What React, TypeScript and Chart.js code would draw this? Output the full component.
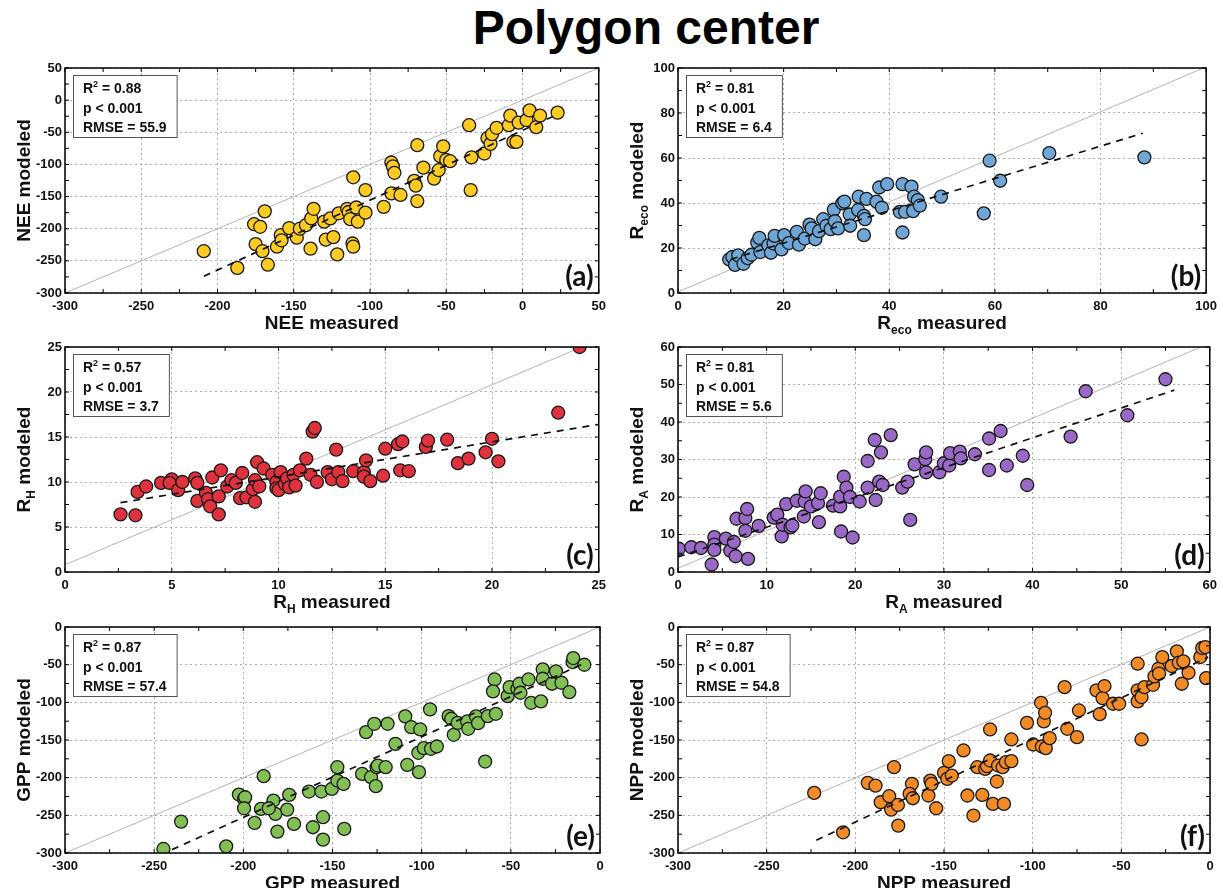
import { useEffect, useRef } from "react";
import { Chart, registerables } from "chart.js";

Chart.register(...registerables);

const FONT = '"Liberation Sans", Arial, Helvetica, sans-serif';

// (a) net ecosystem exchange
const neeMeasured = [-209, -187, -176, -172, -175, -170.5, -167, -169, -161, -158.5, -158, -153, -148, -146, -142, -139, -138.5, -137, -130, -129, -126, -124, -121.5, -120.5, -115, -114, -113, -111.5, -111, -111, -109, -108, -103, -103, -91, -86, -85, -84, -86, -80, -71, -70, -69, -69, -65, -58, -55, -54, -52, -50, -47.5, -35, -34, -33.5, -25, -23, -21, -20, -17, -9, -8, -6, -4, -2.5, 2.6, 4.6, 9, 11.5, 23];
const neeModeled = [-235, -261, -193, -197, -224, -235, -256, -173, -228, -210, -218, -199, -214, -200, -194.5, -231, -184, -169, -189, -217, -184, -213, -240, -176, -169, -174, -185, -223, -228, -120, -167, -189, -140, -175, -166, -97, -103, -113, -145, -147.5, -125.5, -133, -157, -70, -105, -122, -109, -87, -72, -93, -95, -39, -140, -89, -83, -59, -68, -53, -43, -39, -24, -65, -65, -35, -31, -16, -42, -24, -19.5];
const neeFitX = [-209, 23];
const neeFitY = [-274, -22];

// (b) ecosystem respiration
const recoMeasured = [9.7, 10.3, 10.8, 11.4, 12.4, 13.2, 13.9, 15, 15.4, 15.6, 17.1, 17.6, 18.1, 18.3, 19.6, 20.1, 21, 22.5, 22.9, 24, 24.9, 25.3, 26, 26.7, 27.5, 28.1, 28.9, 29.5, 29.7, 30.3, 31.1, 31.5, 32.5, 32.6, 34.1, 34.2, 35.2, 35.2, 35.4, 35.7, 37.6, 38.1, 38.6, 39.6, 42, 42.5, 42.5, 43, 44.2, 44.5, 44.7, 45.4, 45.8, 49.8, 57.9, 59, 61, 70.3, 88.3];
const recoModeled = [14.9, 16, 12.5, 16.7, 13, 15.5, 17, 22.4, 24.5, 18.2, 21.2, 17.9, 22, 25.4, 19.4, 25.7, 22.2, 27.2, 21.5, 24.2, 30.4, 28.7, 23.9, 27.5, 32.8, 29.9, 28.4, 37, 31.9, 28.7, 39.9, 40.6, 34.9, 29.9, 36.9, 42.8, 34.3, 25.7, 32.8, 41.8, 40.6, 46.9, 37.9, 48.4, 36.1, 48.4, 26.9, 36.1, 47.3, 36.4, 42.8, 41.3, 38.8, 42.8, 35.4, 58.8, 49.9, 62.2, 60.3];
const recoFitX = [10, 88];
const recoFitY = [15, 71];

// (c) heterotrophic respiration
const rhMeasured = [2.6, 3.3, 3.4, 3.8, 4.5, 5.0, 4.9, 5.3, 5.5, 6.1, 6.2, 6.2, 6.6, 6.7, 6.8, 6.9, 7.2, 7.3, 7.2, 7.6, 7.8, 8.0, 8.2, 8.3, 8.5, 8.8, 8.9, 8.9, 9.0, 9.1, 9.3, 9.7, 9.9, 9.9, 10.0, 10.1, 10.3, 10.4, 10.5, 10.7, 10.8, 11.0, 11.3, 11.5, 11.6, 11.7, 11.8, 12.3, 12.5, 12.7, 12.8, 13.0, 13.5, 14.0, 14.1, 14.0, 14.3, 14.9, 15.0, 15.6, 15.8, 15.7, 16.1, 16.9, 17.0, 17.9, 18.4, 18.9, 19.7, 20.0, 20.3, 23.1, 24.1];
const rhModeled = [6.4, 6.3, 8.9, 9.5, 9.9, 10.3, 9.9, 9.1, 10.0, 10.4, 9.9, 7.9, 8.8, 8.1, 7.3, 10.5, 6.4, 11.3, 8.4, 9.5, 10.2, 9.9, 8.2, 11.0, 8.3, 9.2, 10.2, 7.8, 12.2, 9.5, 11.5, 10.8, 10.0, 9.3, 9.1, 11.1, 9.8, 10.4, 9.4, 10.8, 9.6, 11.3, 12.6, 10.8, 15.6, 16.0, 10.0, 11.1, 10.3, 13.6, 11.1, 10.1, 11.2, 11.1, 12.4, 10.6, 10.1, 10.7, 13.7, 14.2, 14.5, 11.3, 11.2, 13.9, 14.6, 14.7, 12.1, 12.6, 13.3, 14.8, 12.3, 17.7, 25.0];
const rhFitX = [2.6, 25];
const rhFitY = [7.7, 16.4];

// (d) autotrophic respiration
const raMeasured = [0.1, 1.5, 2.6, 3.8, 4.1, 4.1, 4.1, 5.4, 5.9, 6.3, 6.5, 6.6, 7.6, 7.6, 7.8, 7.9, 9.1, 10.8, 11.2, 11.7, 11.8, 12.2, 12.7, 12.9, 13.4, 14.2, 14.3, 14.4, 15.0, 15.8, 15.9, 16.1, 17.5, 18.3, 18.3, 18.4, 18.7, 19.0, 19.4, 19.7, 20.5, 21.4, 21.4, 22.2, 22.3, 22.7, 22.9, 23.1, 24.0, 25.3, 25.9, 26.2, 26.7, 27.9, 28.0, 28.0, 29.5, 30.0, 30.6, 30.7, 31.8, 31.9, 33.5, 35.1, 35.1, 36.4, 37.1, 38.9, 39.4, 44.3, 46.0, 50.7, 55.0];
const raModeled = [6.2, 6.6, 6.4, 2.0, 9.3, 7.3, 5.9, 8.9, 5.7, 8.0, 4.2, 14.2, 14.4, 11.0, 16.8, 3.5, 12.3, 14.5, 15.3, 9.5, 12.6, 18.1, 11.9, 12.4, 19.0, 14.8, 18.8, 21.5, 17.5, 18.4, 13.3, 21.0, 17.7, 17.5, 20.1, 10.8, 25.4, 22.5, 20.0, 9.2, 18.8, 22.5, 29.6, 35.2, 19.2, 24.1, 31.9, 23.2, 36.5, 22.5, 24.1, 13.9, 28.7, 30.1, 31.9, 26.6, 26.6, 29.0, 28.4, 31.7, 32.1, 30.3, 31.4, 35.6, 27.2, 37.6, 28.4, 31.0, 23.2, 36.1, 48.2, 41.8, 51.4];
const raFitX = [0, 56];
const raFitY = [4.0, 48.5];

// (e) gross primary production
const gppMeasured = [-244.8, -234.9, -209.6, -202.5, -199.6, -199, -199.6, -193.7, -188.6, -190.1, -183.1, -182, -185.7, -180.9, -174.3, -175.4, -171.6, -163.2, -161, -156.2, -155.3, -155.3, -150.4, -147.3, -147.3, -143.8, -143.4, -133.4, -131.2, -128.4, -126.6, -125.7, -125.3, -124.6, -119.1, -120.2, -114.7, -109.2, -108.1, -105.9, -101.9, -101.5, -100.8, -98.8, -95.3, -94.8, -91.5, -84.9, -83.4, -82, -79.8, -74.5, -73.9, -69.5, -68.4, -64.4, -62.9, -59.1, -60, -58.4, -51.8, -50.7, -46.3, -45.2, -44.6, -40.1, -38.6, -33.1, -32.1, -32.1, -26.9, -24.7, -21.6, -17.2, -15.4, -15, -8.8];
const gppModeled = [-294.6, -258.3, -291.1, -222.4, -228.2, -226, -240.6, -260, -198, -241.5, -230.4, -248, -240.6, -271.6, -222.9, -242.4, -261.4, -218.4, -265.8, -218.4, -252.5, -282.2, -214.9, -186.1, -203.8, -208.2, -268, -195, -139.6, -199.4, -128.5, -211.3, -186.1, -183.9, -128.5, -186.1, -155.1, -118.7, -183, -132.9, -167, -192.7, -136, -160.8, -109.4, -161.7, -158.6, -118.3, -121.8, -143.1, -127.2, -125.4, -135.1, -118.7, -127.6, -178.6, -118.3, -69.6, -85.5, -115.2, -91.7, -79.8, -82, -75.3, -87.3, -69.6, -100.6, -98.8, -56.3, -68.7, -75.3, -58.9, -74, -86.4, -46.5, -41.2, -50.1];
const gppFitX = [-240, -10];
const gppFitY = [-295.5, -49.5];

// (f) net primary production
const nppMeasured = [-223.2, -206.9, -193, -188.6, -185.7, -180.9, -179.8, -178.2, -176, -175.8, -168.1, -169.4, -167.6, -158.8, -157.7, -157, -154.4, -150, -148.2, -147.3, -145.6, -139, -136.8, -133.4, -131.2, -128.4, -126.8, -125.7, -124, -124, -122.4, -120.2, -119.5, -116.9, -116.2, -115.1, -112, -112, -103.2, -99.7, -95.3, -94.8, -93.7, -93, -92.6, -90.4, -82, -80.5, -75, -73.9, -64, -62.2, -60.6, -59.5, -54.7, -51.2, -40.8, -40.8, -40.8, -38.6, -38.6, -37, -32.1, -31.3, -29.1, -28.7, -26.9, -21.6, -18.7, -17.6, -15.9, -15, -12.1, -5.5, -4.4, -2.6, -2.2];
const nppModeled = [-220.2, -272.5, -206.9, -210.5, -232.6, -224.6, -242.4, -186.1, -236.2, -263.6, -208.2, -221.5, -227.3, -223.7, -203.8, -208.2, -240.6, -193.6, -201.6, -178.1, -197.2, -163.9, -223.7, -250.3, -186.1, -222.9, -188.3, -184.7, -136, -177.2, -234.8, -205.1, -183.9, -186.1, -234.8, -179.4, -149.3, -178.1, -127.2, -156, -100.6, -158.6, -125.4, -113.9, -160.8, -147.5, -79.8, -135.1, -146.2, -110.8, -84.2, -115.6, -94.4, -78.4, -101.9, -101.9, -48.7, -84.2, -98.8, -93, -149.3, -79.8, -76.7, -65.6, -55.4, -62, -39.9, -51.8, -32.3, -47.4, -75.3, -45.6, -60.7, -39.9, -27.9, -26.6, -67.8];
const nppFitX = [-222, -1];
const nppFitY = [-283, -40];

// 1:1 reference lines, as drawn in each panel
const identityX = [[-300, 50], [0, 99.5], [0, 24.2], [0, 59], [-300, 0], [-300, 0]];
const identityY = [[-300, 50], [0.5, 100], [0.8, 25], [1, 60], [-300, 0], [-300, 0]];

// axis ranges: [min, max, step]
const axisRanges = [
  [-300, 50, 50],
  [0, 100, 20],
  [0, 25, 5],
  [0, 60, 10],
  [-300, 0, 50],
  [-300, 0, 50],
];

const r2Values = ["0.88", "0.81", "0.57", "0.81", "0.87", "0.87"];
const pLabel = "p < 0.001";
const rmseValues = ["55.9", "6.4", "3.7", "5.6", "57.4", "54.8"];
const panelLetters = ["(a)", "(b)", "(c)", "(d)", "(e)", "(f)"];
const pointColors = ["#FCCB22", "#6FA6D8", "#E0323D", "#9A69C8", "#82C055", "#F28A26"];

type AxisName = { main: string; sub?: string; tail?: string };
const xTitles: AxisName[] = [
  { main: "NEE measured" },
  { main: "R", sub: "eco", tail: " measured" },
  { main: "R", sub: "H", tail: " measured" },
  { main: "R", sub: "A", tail: " measured" },
  { main: "GPP measured" },
  { main: "NPP measured" },
];
const yTitles: AxisName[] = [
  { main: "NEE modeled" },
  { main: "R", sub: "eco", tail: " modeled" },
  { main: "R", sub: "H", tail: " modeled" },
  { main: "R", sub: "A", tail: " modeled" },
  { main: "GPP modeled" },
  { main: "NPP modeled" },
];

const measuredSets = [neeMeasured, recoMeasured, rhMeasured, raMeasured, gppMeasured, nppMeasured];
const modeledSets = [neeModeled, recoModeled, rhModeled, raModeled, gppModeled, nppModeled];
const fitXSets = [neeFitX, recoFitX, rhFitX, raFitX, gppFitX, nppFitX];
const fitYSets = [neeFitY, recoFitY, rhFitY, raFitY, gppFitY, nppFitY];

// page geometry: canvas block and plot area for each column / row
const COLS = [
  { x0: 0, w: 612, left: 65, right: 600 },
  { x0: 612, w: 611, left: 678, right: 1210 },
];
const ROWS = [
  { y0: 50, h: 285, top: 68, bottom: 293 },
  { y0: 335, h: 280, top: 347, bottom: 572 },
  { y0: 615, h: 273, top: 627, bottom: 853 },
];

type Run = { text: string; font: string; dy?: number };

function drawRuns(ctx: CanvasRenderingContext2D, runs: Run[], x: number, y: number, center: boolean) {
  const widths = runs.map((r) => {
    ctx.font = r.font;
    return ctx.measureText(r.text).width;
  });
  const total = widths.reduce((a, b) => a + b, 0);
  let cx = center ? x - total / 2 : x;
  ctx.textAlign = "left";
  ctx.textBaseline = "alphabetic";
  runs.forEach((r, i) => {
    ctx.font = r.font;
    ctx.fillText(r.text, cx, y + (r.dy || 0));
    cx += widths[i];
  });
  return total;
}

function measureRuns(ctx: CanvasRenderingContext2D, runs: Run[]) {
  return runs.reduce((s, r) => {
    ctx.font = r.font;
    return s + ctx.measureText(r.text).width;
  }, 0);
}

function titleRuns(t: AxisName): Run[] {
  const big = `bold 19px ${FONT}`;
  const small = `bold 12px ${FONT}`;
  const runs: Run[] = [{ text: t.main, font: big }];
  if (t.sub) runs.push({ text: t.sub, font: small, dy: 5 });
  if (t.tail) runs.push({ text: t.tail, font: big });
  return runs;
}

function Panel({ index }: { index: number }) {
  const ref = useRef<HTMLCanvasElement | null>(null);
  const col = COLS[index % 2];
  const row = ROWS[Math.floor(index / 2)];

  useEffect(() => {
    const canvas = ref.current;
    if (!canvas) return;
    const [min, max, step] = axisRanges[index];
    const xs = measuredSets[index];
    const ys = modeledSets[index];
    const points = xs.map((x, i) => ({ x, y: ys[i] }));
    const fit = fitXSets[index].map((x, i) => ({ x, y: fitYSets[index][i] }));
    const identity = identityX[index].map((x, i) => ({ x, y: identityY[index][i] }));

    const decor = {
      id: "panelDecor",
      afterDatasetsDraw(chart: Chart) {
        const { ctx, chartArea: a } = chart;
        ctx.save();
        // frame
        ctx.strokeStyle = "#000";
        ctx.lineWidth = 1.5;
        ctx.strokeRect(a.left, a.top, a.right - a.left, a.bottom - a.top);
        // inward tick marks (major + minor)
        const xScale = chart.scales.x;
        const yScale = chart.scales.y;
        ctx.lineWidth = 1;
        for (let v = min; v <= max + 1e-9; v += step / 2) {
          const px = xScale.getPixelForValue(v);
          const py = yScale.getPixelForValue(v);
          ctx.beginPath();
          ctx.moveTo(px, a.bottom);
          ctx.lineTo(px, a.bottom - 4);
          ctx.moveTo(px, a.top);
          ctx.lineTo(px, a.top + 4);
          ctx.moveTo(a.left, py);
          ctx.lineTo(a.left + 4, py);
          ctx.moveTo(a.right, py);
          ctx.lineTo(a.right - 4, py);
          ctx.stroke();
        }
        // statistics box
        const big = `bold 14px ${FONT}`;
        const lines: Run[][] = [
          [
            { text: "R", font: big },
            { text: "2", font: `bold 9px ${FONT}`, dy: -6 },
            { text: ` = ${r2Values[index]}`, font: big },
          ],
          [{ text: pLabel, font: big }],
          [{ text: `RMSE = ${rmseValues[index]}`, font: big }],
        ];
        const wMax = Math.max(...lines.map((l) => measureRuns(ctx, l)));
        const bx = a.left + 8;
        const by = a.top + 7;
        const bw = wMax + 20;
        const bh = 62;
        ctx.fillStyle = "#fff";
        ctx.fillRect(bx, by, bw, bh);
        ctx.strokeStyle = "#555";
        ctx.lineWidth = 1;
        ctx.strokeRect(bx + 0.5, by + 0.5, bw, bh);
        ctx.fillStyle = "#111";
        lines.forEach((l, i) => drawRuns(ctx, l, bx + 10, by + 18 + i * 19.5, false));
        // panel letter
        ctx.font = `bold 28px Lato, ${FONT}`;
        ctx.textAlign = "right";
        ctx.textBaseline = "alphabetic";
        ctx.fillStyle = "#111";
        ctx.fillText(panelLetters[index], a.right - 5, a.bottom - 7);
        ctx.restore();
      },
      afterDraw(chart: Chart) {
        const { ctx, chartArea: a } = chart;
        ctx.save();
        ctx.fillStyle = "#111";
        drawRuns(ctx, titleRuns(xTitles[index]), (a.left + a.right) / 2, a.bottom + 36, true);
        ctx.translate(a.left - 42, (a.top + a.bottom) / 2);
        ctx.rotate(-Math.PI / 2);
        drawRuns(ctx, titleRuns(yTitles[index]), 0, 7, true);
        ctx.restore();
      },
    };

    const tickFont = { family: FONT, weight: "bold" as const, size: 13 };
    const gridColor = "rgba(140,140,140,0.7)";
    const yWidth = col.left - col.x0;
    const xHeight = row.y0 + row.h - row.bottom;

    const chart = new Chart(canvas, {
      type: "scatter",
      data: {
        datasets: [
          {
            data: fit,
            showLine: true,
            borderColor: "#111",
            borderWidth: 1.7,
            borderDash: [7, 6],
            pointRadius: 0,
            order: 0,
          },
          {
            data: points,
            backgroundColor: pointColors[index],
            borderColor: "#1a1a1a",
            borderWidth: 1.3,
            pointRadius: 6.5,
            clip: 0,
            order: 1,
          },
          {
            data: identity,
            showLine: true,
            borderColor: "#b4b4b4",
            borderWidth: 1,
            pointRadius: 0,
            order: 2,
          },
        ],
      },
      options: {
        animation: false,
        responsive: false,
        devicePixelRatio: 1,
        layout: {
          padding: { top: row.top - row.y0, right: col.x0 + col.w - col.right, left: 0, bottom: 0 },
        },
        plugins: { legend: { display: false }, tooltip: { enabled: false } },
        scales: {
          x: {
            type: "linear",
            min,
            max,
            afterFit: (s: any) => {
              s.height = xHeight;
            },
            ticks: { stepSize: step, font: tickFont, color: "#111", padding: 6, maxRotation: 0, autoSkip: false },
            grid: { color: gridColor, drawTicks: false, lineWidth: 1 },
            border: { display: false, dash: [2, 3] },
          },
          y: {
            type: "linear",
            min,
            max,
            afterFit: (s: any) => {
              s.width = yWidth;
            },
            ticks: { stepSize: step, font: tickFont, color: "#111", padding: 3, autoSkip: false },
            grid: { color: gridColor, drawTicks: false, lineWidth: 1 },
            border: { display: false, dash: [2, 3] },
          },
        },
      },
      plugins: [decor],
    });
    return () => chart.destroy();
  }, [index]);

  return (
    <canvas
      ref={ref}
      width={col.w}
      height={row.h}
      style={{ position: "absolute", left: col.x0, top: row.y0, width: col.w, height: row.h }}
    />
  );
}

export default function App() {
  return (
    <div style={{ position: "absolute", left: 0, top: 0, width: 1223, height: 888, background: "#fff", overflow: "hidden" }}>
      <div
        style={{
          position: "absolute",
          left: 346,
          top: 2,
          width: 600,
          textAlign: "center",
          font: `bold 48px ${FONT}`,
          lineHeight: "52px",
          color: "#000",
        }}
      >
        Polygon center
      </div>
      {[0, 1, 2, 3, 4, 5].map((i) => (
        <Panel key={i} index={i} />
      ))}
    </div>
  );
}
